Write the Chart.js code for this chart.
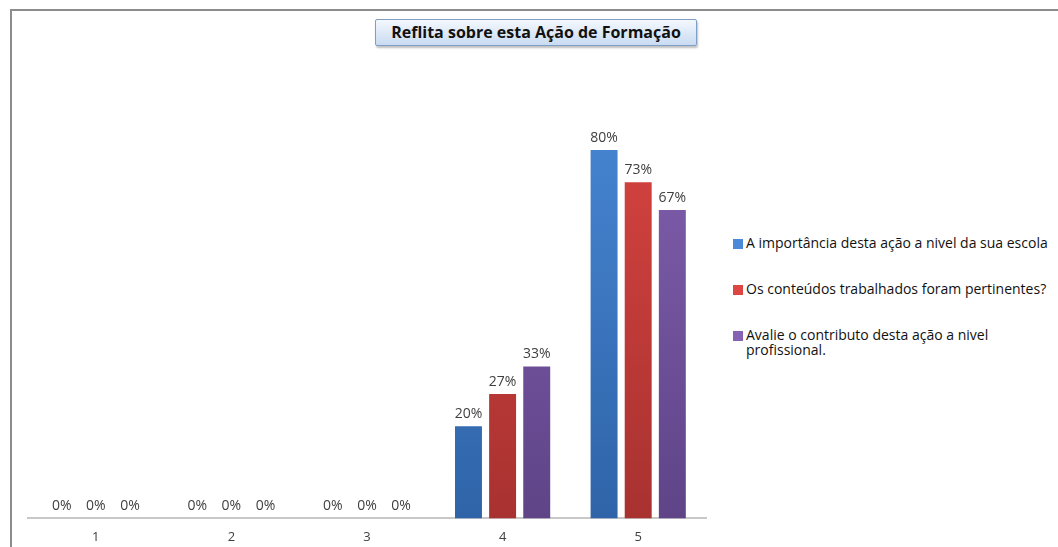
<!DOCTYPE html>
<html>
<head>
<meta charset="utf-8">
<script src="https://cdn.jsdelivr.net/npm/chart.js@4.4.0/dist/chart.umd.min.js"></script>
<style>
  html, body { margin: 0; padding: 0; background: #fff; }
  body { width: 1058px; height: 547px; position: relative; overflow: hidden; font-family: "Open Sans", sans-serif; }
  .frame { position: absolute; left: 10px; top: 9px; right: -4px; bottom: -4px; border-left: 2px solid #8c8c8c; border-top: 2px solid #8c8c8c; }
  .title {
    position: absolute; left: 375px; top: 19px; width: 320px; height: 25px;
    border: 1px solid #7f9fc6; border-radius: 2px;
    background: linear-gradient(#f4f8fd, #c9dbf2);
    box-shadow: 1px 2px 2px rgba(0,0,0,0.25);
    font-weight: bold; font-size: 16px; color: #111; text-align: center; line-height: 25px;
  }
  .chart-box { position: absolute; left: 0; top: 0; width: 720px; height: 556px; }
  #legend { position: absolute; left: 733px; top: 235px; margin: 0; padding: 0; list-style: none; width: 324px; }
  #legend li { display: flex; align-items: flex-start; font-size: 14px; line-height: 15px; color: #111; margin-bottom: 31px; }
  #legend .box { width: 8px; height: 8px; margin: 4px 3px 0 0; flex: none; }
</style>
</head>
<body>
<div class="frame"></div>
<div class="title">Reflita sobre esta Ação de Formação</div>
<div class="chart-box"><canvas id="chart" width="720" height="556"></canvas></div>
<ul id="legend"></ul>
<script>
// categories and series (percent)
const categories = ['1', '2', '3', '4', '5'];
const seriesNames = [
  'A importância desta ação a nivel da sua escola',
  'Os conteúdos trabalhados foram pertinentes?',
  'Avalie o contributo desta ação a nivel profissional.',
];
const importancia = [0, 0, 0, 20, 80];
const conteudos = [0, 0, 0, 27, 73];
const contributo = [0, 0, 0, 33, 67];

const colors = [
  ['#4a8ad8', '#2f64a8'],
  ['#dd4642', '#a83230'],
  ['#8663b3', '#5f4488'],
];

function barFill(pair) {
  return (context) => {
    const { ctx, chartArea } = context.chart;
    if (!chartArea) return pair[0];
    const g = ctx.createLinearGradient(0, chartArea.top, 0, chartArea.bottom);
    g.addColorStop(0, pair[0]);
    g.addColorStop(1, pair[1]);
    return g;
  };
}

const values = [importancia, conteudos, contributo];

const ctx = document.getElementById('chart');
const chart = new Chart(ctx, {
  type: 'bar',
  data: {
    labels: categories,
    datasets: values.map((v, i) => ({
      label: seriesNames[i],
      data: v,
      backgroundColor: barFill(colors[i]),
      legendColor: colors[i][0],
      borderWidth: 0,
      categoryPercentage: 0.755,
      barPercentage: 0.79,
    })),
  },
  options: {
    responsive: false,
    animation: false,
    layout: {
      padding: { top: 58, left: 28, right: 14, bottom: 0 },
    },
    scales: {
      x: {
        grid: { display: false, drawTicks: false },
        border: { display: true, color: '#c8c8c8', width: 2 },
        ticks: { color: '#404040', font: { family: 'Open Sans', size: 13 }, padding: 11 },
      },
      y: {
        display: false,
        min: 0,
        max: 100,
      },
    },
    plugins: {
      legend: { display: false },
      tooltip: { enabled: false },
    },
  },
  plugins: [{
    id: 'valueLabels',
    afterDatasetsDraw(c) {
      const g = c.ctx;
      g.save();
      g.font = '14px "Open Sans"';
      g.fillStyle = '#404040';
      g.textAlign = 'center';
      g.textBaseline = 'bottom';
      c.data.datasets.forEach((ds, i) => {
        c.getDatasetMeta(i).data.forEach((bar, j) => {
          g.fillText(ds.data[j] + '%', bar.x, bar.y - 5);
        });
      });
      g.restore();
    },
  }],
});

// html legend
const ul = document.getElementById('legend');
chart.data.datasets.forEach((ds) => {
  const li = document.createElement('li');
  const box = document.createElement('span');
  box.className = 'box';
  box.style.background = ds.legendColor;
  box.style.border = '1px solid ' + ds.legendColor;
  const label = document.createElement('span');
  label.textContent = ds.label;
  li.appendChild(box);
  li.appendChild(label);
  ul.appendChild(li);
});
</script>
</body>
</html>
